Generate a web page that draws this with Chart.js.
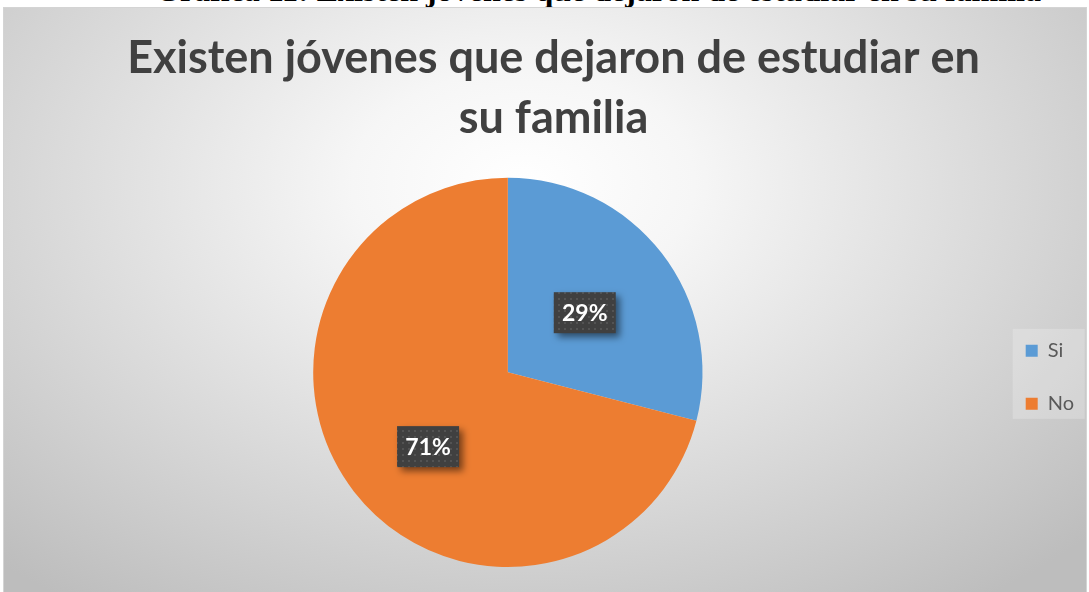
<!DOCTYPE html>
<html>
<head>
<meta charset="utf-8">
<script src="https://cdn.jsdelivr.net/npm/chart.js@4.4.0/dist/chart.umd.min.js"></script>
<style>
  html, body { margin: 0; padding: 0; background: #fff; }
  body { width: 1089px; height: 592px; overflow: hidden; position: relative; }
  #caption {
    position: absolute; left: 0; top: 0; width: 1089px; height: 7px; overflow: hidden;
  }
  #caption div {
    position: absolute; left: 155px; top: -28px;
    font: bold 32px "Liberation Serif", serif; color: #000; white-space: nowrap;
  }
  #box {
    position: absolute; left: 3px; top: 7px; width: 1082px; height: 584px;
    border: 1px solid #d4d4d4;
    background: radial-gradient(ellipse 72% 88% at 48% 30%, #ffffff 0%, #f6f6f6 22%, #bdbdbd 100%);
  }
</style>
</head>
<body>
<div id="caption"><div>Gráfica 11: Existen jóvenes que dejaron de estudiar en su familia</div></div>
<div id="box"><canvas id="chart"></canvas></div>
<script>
const categories = ["Si", "No"];
const values = [29, 71];
const colors = ["#5B9BD5", "#ED7D31"];
const titleLines = ["Existen jóvenes que dejaron de estudiar en", "su familia"];

// dotted dark fill for the data labels
const pat = document.createElement("canvas");
pat.width = 6; pat.height = 6;
const pctx = pat.getContext("2d");
pctx.fillStyle = "#404040";
pctx.fillRect(0, 0, 6, 6);
pctx.fillStyle = "#535353";
pctx.fillRect(2, 2, 2, 2);

const legendBox = {
  id: "legendBox",
  beforeDraw(chart) {
    const lg = chart.legend;
    if (!lg || !lg.legendHitBoxes.length) return;
    const hb = lg.legendHitBoxes;
    const x = hb[0].left - 13;
    const y = hb[0].top - 12;
    const h = hb[hb.length - 1].top + hb[hb.length - 1].height + 5 - y;
    const ctx = chart.ctx;
    ctx.save();
    ctx.fillStyle = "rgba(255,255,255,0.22)";
    ctx.fillRect(x, y, 72, h);
    ctx.restore();
  }
};

const sliceLabels = {
  id: "sliceLabels",
  afterDatasetsDraw(chart) {
    const ctx = chart.ctx;
    const meta = chart.getDatasetMeta(0);
    const total = values.reduce((a, b) => a + b, 0);
    meta.data.forEach((arc, i) => {
      const mid = (arc.startAngle + arc.endAngle) / 2 - (i === 0 ? 0 : 0.09);
      const r = arc.outerRadius * (i === 0 ? 0.5 : 0.56);
      const cx = arc.x + Math.cos(mid) * r;
      const cy = arc.y + Math.sin(mid) * r;
      const w = 62, h = 41;
      ctx.save();
      ctx.shadowColor = "rgba(0,0,0,0.5)";
      ctx.shadowBlur = 7;
      ctx.shadowOffsetX = 4;
      ctx.shadowOffsetY = 4;
      ctx.fillStyle = ctx.createPattern(pat, "repeat");
      ctx.fillRect(cx - w / 2, cy - h / 2, w, h);
      ctx.restore();
      ctx.save();
      ctx.fillStyle = "#ffffff";
      ctx.font = "bold 23px Lato";
      ctx.textAlign = "center";
      ctx.textBaseline = "middle";
      ctx.fillText(Math.round(values[i] / total * 100) + "%", cx, cy + 1);
      ctx.restore();
    });
  }
};

new Chart(document.getElementById("chart"), {
  type: "pie",
  data: {
    labels: categories,
    datasets: [{
      data: values,
      backgroundColor: colors,
      borderWidth: 0
    }]
  },
  options: {
    responsive: true,
    maintainAspectRatio: false,
    animation: false,
    layout: { padding: { left: 19, right: 2, top: 0, bottom: 25 } },
    plugins: {
      title: {
        display: true,
        text: titleLines,
        color: "#404040",
        font: { family: "Lato", size: 45, weight: "bold", lineHeight: 1.33 },
        padding: { top: 21, bottom: 29 }
      },
      legend: {
        position: "right",
        fullSize: false,
        title: { display: true, text: "", font: { size: 10, lineHeight: 1 }, padding: 0 },
        labels: {
          boxWidth: 12,
          boxHeight: 12,
          padding: 33,
          color: "#595959",
          font: { family: "Lato", size: 20 }
        }
      },
      tooltip: { enabled: false }
    }
  },
  plugins: [legendBox, sliceLabels]
});
</script>
</body>
</html>
